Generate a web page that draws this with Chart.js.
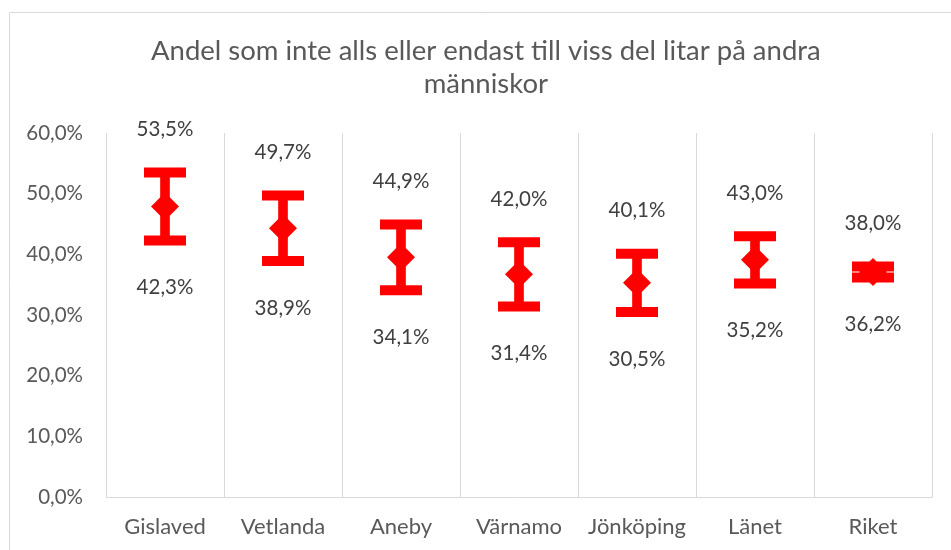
<!DOCTYPE html>
<html>
<head>
<meta charset="utf-8">
<script src="https://cdn.jsdelivr.net/npm/chart.js@4/dist/chart.umd.min.js"></script>
<style>
html,body{margin:0;padding:0;background:#fff;}
#wrap{width:951px;height:550px;position:relative;}
</style>
</head>
<body>
<div id="wrap"><canvas id="c" width="951" height="550"></canvas></div>
<script>
const categories = ['Gislaved','Vetlanda','Aneby','Värnamo','Jönköping','Länet','Riket'];
const upperValues = [53.5, 49.7, 44.9, 42.0, 40.1, 43.0, 38.0];
const lowerValues = [42.3, 38.9, 34.1, 31.4, 30.5, 35.2, 36.2];
const meanValues = [47.9, 44.3, 39.5, 36.7, 35.3, 39.1, 37.1];
const yTicks = [0, 10, 20, 30, 40, 50, 60];
const titleLines = ['Andel som inte alls eller endast till viss del litar på andra', 'människor'];

const RED = '#ff0000';
const FONT = 'Lato, "Open Sans", sans-serif';
const fmt = v => v.toFixed(1).replace('.', ',') + '%';

const frame = {
  id: 'frame',
  beforeDraw(chart) {
    const ctx = chart.ctx;
    ctx.save();
    ctx.fillStyle = '#fff';
    ctx.fillRect(0, 0, chart.width, chart.height);
    ctx.strokeStyle = '#d9d9d9';
    ctx.lineWidth = 1;
    ctx.beginPath();
    ctx.moveTo(9.5, chart.height + 2);
    ctx.lineTo(9.5, 12.5);
    ctx.lineTo(chart.width + 2, 12.5);
    ctx.stroke();
    ctx.restore();
  }
};

const valueLabels = {
  id: 'valueLabels',
  afterDatasetsDraw(chart) {
    const ctx = chart.ctx;
    const xs = chart.scales.x, ys = chart.scales.y;
    ctx.save();
    ctx.font = '20.5px ' + FONT;
    ctx.fillStyle = '#404040';
    ctx.textAlign = 'center';
    ctx.textBaseline = 'middle';
    categories.forEach((c, i) => {
      const x = xs.getPixelForValue(i);
      ctx.fillText(fmt(upperValues[i]), x, ys.getPixelForValue(upperValues[i]) - 43);
      ctx.fillText(fmt(lowerValues[i]), x, ys.getPixelForValue(lowerValues[i]) + 47);
    });
    ctx.restore();
  }
};

new Chart(document.getElementById('c'), {
  type: 'bar',
  data: {
    labels: categories,
    datasets: [
      {
        type: 'line',
        label: 'Medel',
        data: meanValues,
        showLine: false,
        pointStyle: 'rectRot',
        pointRadius: 14,
        pointHoverRadius: 14,
        backgroundColor: RED,
        borderColor: RED,
        borderWidth: 0,
        order: 0
      },
      {
        type: 'line',
        label: 'Övre',
        data: upperValues,
        showLine: false,
        pointStyle: 'line',
        pointRadius: 21,
        pointHoverRadius: 21,
        borderColor: RED,
        borderWidth: 10,
        order: 1
      },
      {
        type: 'line',
        label: 'Nedre',
        data: lowerValues,
        showLine: false,
        pointStyle: 'line',
        pointRadius: 21,
        pointHoverRadius: 21,
        borderColor: RED,
        borderWidth: 10,
        order: 2
      },
      {
        type: 'bar',
        label: 'Intervall',
        data: categories.map((c, i) => [lowerValues[i], upperValues[i]]),
        backgroundColor: RED,
        borderWidth: 0,
        barThickness: 9,
        order: 3
      }
    ]
  },
  options: {
    responsive: false,
    animation: false,
    events: [],
    layout: { autoPadding: false, padding: { left: 26, right: 19, top: 12, bottom: 0 } },
    plugins: {
      legend: { display: false },
      tooltip: { enabled: false },
      title: {
        display: true,
        text: titleLines.map(t => '\u2002' + t),
        color: '#595959',
        font: { family: FONT, size: 27.5, weight: 'normal', lineHeight: 1.2 },
        padding: { top: 23, bottom: 32 }
      }
    },
    scales: {
      x: {
        offset: true,
        grid: { display: true, offset: true, color: '#d9d9d9', lineWidth: 1, drawTicks: false },
        border: { display: true, color: '#d9d9d9' },
        ticks: { color: '#595959', font: { family: FONT, size: 22 }, padding: 17, maxRotation: 0 },
        afterFit(s) { s.height = 53; s.paddingLeft = 0; s.paddingRight = 0; }
      },
      y: {
        min: 0,
        max: 60,
        afterBuildTicks(s) { s.ticks = yTicks.map(v => ({ value: v })); },
        grid: { display: false, drawTicks: false },
        border: { display: false },
        ticks: { color: '#595959', font: { family: FONT, size: 20.5 }, padding: 23, callback: v => fmt(v) },
        afterFit(s) { s.width = 80; }
      }
    }
  },
  plugins: [frame, valueLabels]
});
</script>
</body>
</html>
